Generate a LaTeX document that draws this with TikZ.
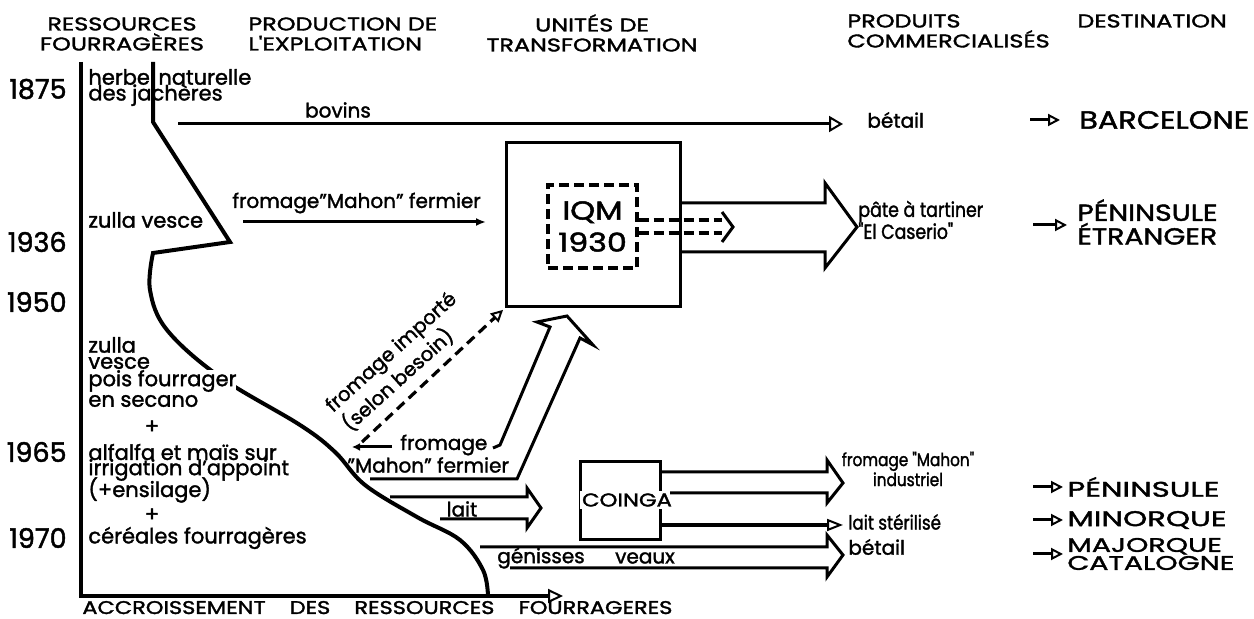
\documentclass[tikz,border=0pt]{standalone}
\usepackage{fontspec}
\setmainfont{Poppins}[FakeBold=1.6]
\newfontfamily\capsfont[FakeStretch=1.22, FakeBold=1.8]{Poppins}
\newfontfamily\headfont[FakeStretch=1.3, FakeBold=1.8]{Poppins}
\newfontfamily\widecaps[FakeStretch=1.45, FakeBold=1.8]{Poppins}
\newfontfamily\narrowfont[FakeStretch=0.85, FakeBold=1.6]{Poppins}
\usetikzlibrary{arrows.meta}

\begin{document}
\begin{tikzpicture}[x=0.5pt,y=-0.5pt]
    \tikzstyle{every node}+=[inner sep=0pt]
    \tikzstyle{headtxt}=[font=\headfont\fontsize{9.2}{10}\selectfont, align=center]
    \tikzstyle{yeartxt}=[font=\fontsize{13.5}{13.5}\selectfont, anchor=east]
    \tikzstyle{plant}=[font=\fontsize{10.5}{10.5}\selectfont, anchor=west]
    \tikzstyle{prod}=[font=\fontsize{10}{11}\selectfont, anchor=west]
    \tikzstyle{smallprod}=[font=\narrowfont\fontsize{10.2}{11}\selectfont]
    \tikzstyle{dest}=[font=\capsfont\fontsize{12.4}{9.8}\selectfont, anchor=west, align=left]
    \tikzstyle{lowdest}=[font=\widecaps\fontsize{10.6}{9}\selectfont, anchor=west, align=left]
    \tikzstyle{axisline}=[line width=2pt, line join=miter]
    \tikzstyle{hollow}=[line width=1.5pt, line join=miter]
    \tikzstyle{unitbox}=[draw, line width=1.5pt]
    \tikzstyle{dashbox}=[draw, line width=1.6pt, dash pattern=on 5pt off 2.5pt]
    \tikzstyle{opentip}=[-{Triangle[open,length=7pt,width=8pt,line width=1pt]}]
    \tikzstyle{desttip}=[line width=1.5pt, -{Triangle[open,length=6pt,width=6pt,line width=1pt]}]
    \fill[white] (0,0) rectangle (1254,619);
    \useasboundingbox (0,0) rectangle (1254,619);
    % column heads
    \node[headtxt] (hres) at (122,34) {RESSOURCES\\FOURRAGÈRES};
    \node[headtxt, align=left, anchor=west] (hprod) at (248,34) {PRODUCTION DE\\L'EXPLOITATION};
    \node[headtxt] (hunit) at (592,33) {UNITÉS DE\\TRANSFORMATION};
    \node[headtxt, align=left, anchor=west] (hcom) at (847,31) {PRODUITS\\COMMERCIALISÉS};
    \node[headtxt, anchor=west] (hdest) at (1077,21) {DESTINATION};
    % years
    \node[yeartxt] (y1875) at (67,89) {1875};
    \node[yeartxt] (y1936) at (67,242) {1936};
    \node[yeartxt] (y1950) at (67,302) {1950};
    \node[yeartxt] (y1965) at (67,452) {1965};
    \node[yeartxt] (y1970) at (67,538) {1970};
    % axes and curve
    \coordinate (ytop) at (81,62);
    \coordinate (orig) at (81,596);
    \coordinate (xtip) at (563,596);
    \draw[axisline, -{Triangle[open,length=7.5pt,width=7pt,line width=1pt]}] (ytop) -- (orig) -- (xtip);
    \draw[axisline] (153,62) -- (153,122) -- (230,242) -- (153,253) -- plot[smooth, tension=0.6] coordinates {(153,253) (150,290) (167,330) (220,377) (300,425) (335,452) (365,485) (417,517) (460,540) (483,570) (488,596)};
    \node[font=\capsfont\fontsize{9.2}{9.2}\selectfont, anchor=base west] (accr) at (82,614) {\makebox[295pt]{ACCROISSEMENT\hfill DES\hfill RESSOURCES\hfill FOURRAGERES}};
    % fodder resources
    \node[plant] (herbe) at (88,77) {herbe};
    \node[plant] (natur) at (158,77) {naturelle};
    \node[plant] (jach) at (88,95) {des jachères};
    \node[plant] (zv1) at (88,220) {zulla vesce};
    \node[plant] (zul) at (88,345) {zulla};
    \node[plant] (ves) at (88,363) {vesce};
    \node[plant, fill=white] (pois) at (88,381) {pois fourrager};
    \node[plant] (sec) at (88,401) {en secano};
    \node[plant, anchor=center] (plus1) at (152,427) {+};
    \node[plant] (alf) at (88,452) {alfalfa et maïs sur};
    \node[plant] (irr) at (88,470) {irrigation d'appoint};
    \node[plant] (ens) at (88,490) {(+ensilage)};
    \node[plant, anchor=center] (plus2) at (152,515) {+};
    \node[plant] (cer) at (88,538) {céréales fourragères};
    % bovins
    \coordinate (bovA) at (178,124);
    \coordinate (bovB) at (843,124);
    \draw[line width=1.5pt, opentip] (bovA) -- (bovB);
    \node[prod, anchor=center] (bovins) at (338,110) {bovins};
    \node[prod] (betail) at (867,120) {bétail};
    \node[dest] (barca) at (1079,120) {BARCELONE};
    \draw[desttip] (barca.west) ++(-49,0) -- ++(30,0);
    % IQM
    \node[unitbox, minimum width=87pt, minimum height=82pt] (iqm) at (593,225) {};
    \node[dashbox, minimum width=44.5pt, minimum height=41.5pt] (iqmin) at (592.5,226.5) {};
    \node[font=\capsfont\fontsize{13}{16}\selectfont, align=center] (iqmtxt) at (iqmin) {IQM\\1930};
    \draw[line width=1.6pt, dash pattern=on 5pt off 2.5pt] (iqmin.east |- 0,220) -- (722,220) (iqmin.east |- 0,233) -- (722,233);
    \draw[line width=1.5pt] (722,212) -- (733,227) -- (722,242);
    \draw[hollow] (iqm.east |- 0,203) -- (825,203) -- (825,183) -- (857,227) -- (825,268) -- (825,252) -- (iqm.east |- 0,252);
    \node[smallprod, anchor=west, align=left] (pate) at (858,220) {pâte à tartiner\\"El Caserio"};
    \node[dest, font=\capsfont\fontsize{11.6}{9.8}\selectfont] (penet) at (1077,222) {PÉNINSULE\\ÉTRANGER};
    \draw[desttip] (penet.west) ++(-44,3) -- ++(34,0);
    \node[prod] (fmf) at (232,203) {fromage"Mahon" fermier};
    \coordinate (fmfA) at (243,222);
    \coordinate (fmfB) at (486,222);
    \draw[line width=1.5pt, -{Latex[length=5pt,width=4pt]}] (fmfA) -- (fmfB);
    % imported cheese
    \node[prod, font=\fontsize{9.8}{9.8}\selectfont, anchor=center, rotate=42, align=left] (fimp) at (400,362) {fromage importé\\(selon besoin)};
    \coordinate (impA) at (362,442);
    \draw[line width=1.6pt, dash pattern=on 5pt off 3pt, shorten >=1pt, -{Triangle[open,length=6pt,width=6pt,line width=1pt]}] (impA) -- (iqm.south west);
    % farm cheese towards IQM
    \draw[hollow] (370,479) -- (517,479) -- (580,338) -- (593,345) -- (567,316) -- (537,322) -- (550,327) -- (500,445) -- (493,448);
    \node[prod] (from2) at (400,445) {fromage};
    \node[prod] (mahon2) at (347,465) {"Mahon" fermier};
    \draw[line width=1.5pt, -{Latex[length=4pt,width=4pt]}] (from2.west) ++(-8,2) -- ++(-40,0);
    % milk
    \draw[hollow] (390,497) -- (527,497) -- (527,488) -- (541,508) -- (527,528) -- (527,519) -- (440,519);
    \node[prod, anchor=center] (lait) at (462,509) {lait};
    % COINGA
    \node[unitbox, minimum width=40pt, minimum height=39pt] (coinga) at (620,501) {};
    \node[font=\capsfont\fontsize{9.3}{9.3}\selectfont, fill=white, inner sep=1pt] (coingatxt) at (627,500) {COINGA};
    \draw[hollow] (coinga.east |- 0,472) -- (827,472) -- (827,460) -- (843,483) -- (827,503) -- (827,493) -- (670,493);
    \draw[line width=1.6pt, -{Triangle[open,length=8pt,width=6pt,line width=1pt]}] (coinga.east |- 0,525) -- (843,525);
    \draw[hollow] (480,547) -- (827,547) -- (827,535) -- (843,555) -- (827,577) -- (827,568) -- (510,568);
    \node[prod, anchor=center] (genis) at (541,558) {génisses};
    \node[prod, anchor=center] (veaux) at (645,558) {veaux};
    % products and destinations
    \node[smallprod, font=\narrowfont\fontsize{9}{10}\selectfont, align=center] (fmi) at (908,469) {fromage "Mahon"\\industriel};
    \node[smallprod, font=\narrowfont\fontsize{9.8}{10}\selectfont, anchor=west] (laitst) at (848,522) {lait stérilisé};
    \node[prod] (betail2) at (848,547) {bétail};
    \node[lowdest] (pen2) at (1067,487) {PÉNINSULE};
    \node[lowdest] (mino) at (1067,520) {MINORQUE};
    \node[lowdest, font=\widecaps\fontsize{9.8}{9}\selectfont] (majo) at (1067,554) {MAJORQUE\\CATALOGNE};
    \draw[desttip] (pen2.west) ++(-34,0) -- ++(30,0);
    \draw[desttip] (mino.west) ++(-34,0) -- ++(30,0);
    \draw[desttip] (majo.west) ++(-34,0) -- ++(30,0);
\end{tikzpicture}
\end{document}
